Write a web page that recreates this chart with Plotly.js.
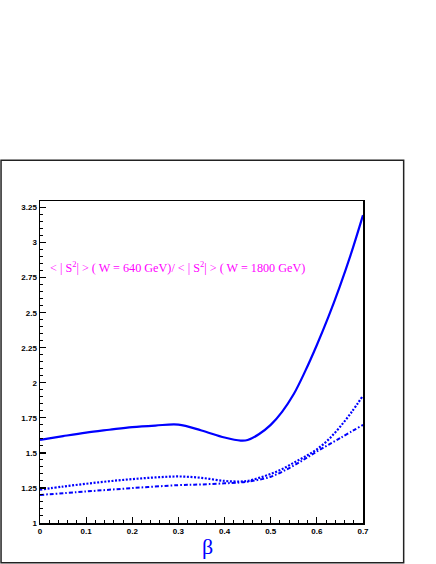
<!DOCTYPE html>
<html>
<head>
<meta charset="utf-8">
<script src="https://cdn.plot.ly/plotly-3.0.1.min.js"></script>
<style>
  html, body { margin: 0; padding: 0; background: #fff; }
  #chart { width: 436px; height: 564px; }
</style>
</head>
<body>
<div id="chart"></div>
<script>
/* ── Data ─────────────────────────────────────────────────── */
const BETA_SOLID = [0, 0.05, 0.1, 0.15, 0.2, 0.25, 0.3, 0.35, 0.4, 0.435, 0.45, 0.475, 0.5, 0.525, 0.55, 0.575, 0.6, 0.625, 0.65, 0.675, 0.7];
const RATIO_SOLID = [1.593, 1.62, 1.645, 1.665, 1.684, 1.695, 1.702, 1.66, 1.61, 1.588, 1.592, 1.635, 1.70, 1.795, 1.92, 2.085, 2.27, 2.47, 2.69, 2.93, 3.196];

const BETA_DOT = [0, 0.05, 0.1, 0.15, 0.2, 0.25, 0.3, 0.35, 0.4, 0.433, 0.45, 0.475, 0.5, 0.525, 0.55, 0.575, 0.6, 0.625, 0.65, 0.675, 0.7];
const RATIO_DOT = [1.237, 1.26, 1.28, 1.298, 1.313, 1.325, 1.332, 1.322, 1.30, 1.296, 1.30, 1.322, 1.35, 1.385, 1.43, 1.475, 1.525, 1.595, 1.685, 1.79, 1.909];

const BETA_DASHDOT = [0, 0.1, 0.2, 0.3, 0.35, 0.4, 0.433, 0.45, 0.5, 0.55, 0.6, 0.65, 0.7];
const RATIO_DASHDOT = [1.20, 1.225, 1.249, 1.27, 1.275, 1.283, 1.289, 1.295, 1.33, 1.41, 1.51, 1.605, 1.70];

const X_TICKS = [0, 0.1, 0.2, 0.3, 0.4, 0.5, 0.6, 0.7];
const X_TICKTEXT = ['0', '0.1', '0.2', '0.3', '0.4', '0.5', '0.6', '0.7'];
const Y_TICKS = [1, 1.25, 1.5, 1.75, 2, 2.25, 2.5, 2.75, 3, 3.25];
const Y_TICKTEXT = ['1', '1.25', '1.5', '1.75', '2', '2.25', '2.5', '2.75', '3', '3.25'];

const LABEL = '&lt; | S<sup>2</sup>| &gt; ( W = 640 GeV)/ &lt; | S<sup>2</sup>| &gt; ( W = 1800 GeV)';

/* ── Styles ───────────────────────────────────────────────── */
const BLUE = '#0000ff';
const tickFont = { family: 'Liberation Sans, Arial, sans-serif', size: 8, color: '#000', weight: 'bold' };

const axisBase = {
  showline: true, linecolor: '#000', linewidth: 1.5, mirror: true,
  showgrid: false, zeroline: false,
  ticks: 'inside', ticklen: 6, tickwidth: 1.2, tickcolor: '#000',
  tickfont: tickFont, tickmode: 'array'
};

const traces = [
  {
    x: BETA_SOLID, y: RATIO_SOLID, mode: 'lines',
    line: { color: BLUE, width: 2.2, shape: 'spline', smoothing: 1 },
    hoverinfo: 'skip'
  },
  {
    x: BETA_DOT, y: RATIO_DOT, mode: 'lines',
    line: { color: BLUE, width: 2.2, dash: '2px,1.6px', shape: 'spline', smoothing: 1 },
    hoverinfo: 'skip'
  },
  {
    x: BETA_DASHDOT, y: RATIO_DASHDOT, mode: 'lines',
    line: { color: BLUE, width: 2, dash: '4px,2px,1.6px,2px', shape: 'spline', smoothing: 1 },
    hoverinfo: 'skip'
  }
];

const layout = {
  width: 436, height: 564,
  margin: { l: 40, r: 72.7, t: 200.7, b: 40.7 },
  paper_bgcolor: '#fff', plot_bgcolor: '#fff',
  showlegend: false,
  xaxis: Object.assign({}, axisBase, {
    range: [0, 0.7], tickvals: X_TICKS, ticktext: X_TICKTEXT,
    minor: { dtick: 0.02, ticks: 'inside', ticklen: 3, tickwidth: 1, tickcolor: '#000' }
  }),
  yaxis: Object.assign({}, axisBase, {
    range: [1, 3.297], tickvals: Y_TICKS, ticktext: Y_TICKTEXT,
    minor: { dtick: 0.05, ticks: 'inside', ticklen: 3, tickwidth: 1, tickcolor: '#000' }
  }),
  shapes: [
    { type: 'rect', xref: 'paper', yref: 'paper',
      x0: -0.1206, x1: 1.1259, y0: -0.1231, y1: 1.1262,
      line: { color: '#222', width: 1.5 }, fillcolor: 'rgba(0,0,0,0)', layer: 'below' }
  ],
  annotations: [
    { xref: 'paper', yref: 'paper', x: 0.0247, y: 0.7954, xanchor: 'left', yanchor: 'middle',
      text: LABEL, showarrow: false,
      font: { family: 'Liberation Serif, Times New Roman, serif', size: 12.2, color: '#ff00ff' } },
    { xref: 'paper', yref: 'paper', x: 0.5195, y: -0.072, xanchor: 'center', yanchor: 'middle',
      text: 'β', showarrow: false,
      font: { family: 'Liberation Serif, Times New Roman, serif', size: 22, color: BLUE } }
  ]
};

Plotly.newPlot('chart', traces, layout, { displayModeBar: false, staticPlot: true });
</script>
</body>
</html>
